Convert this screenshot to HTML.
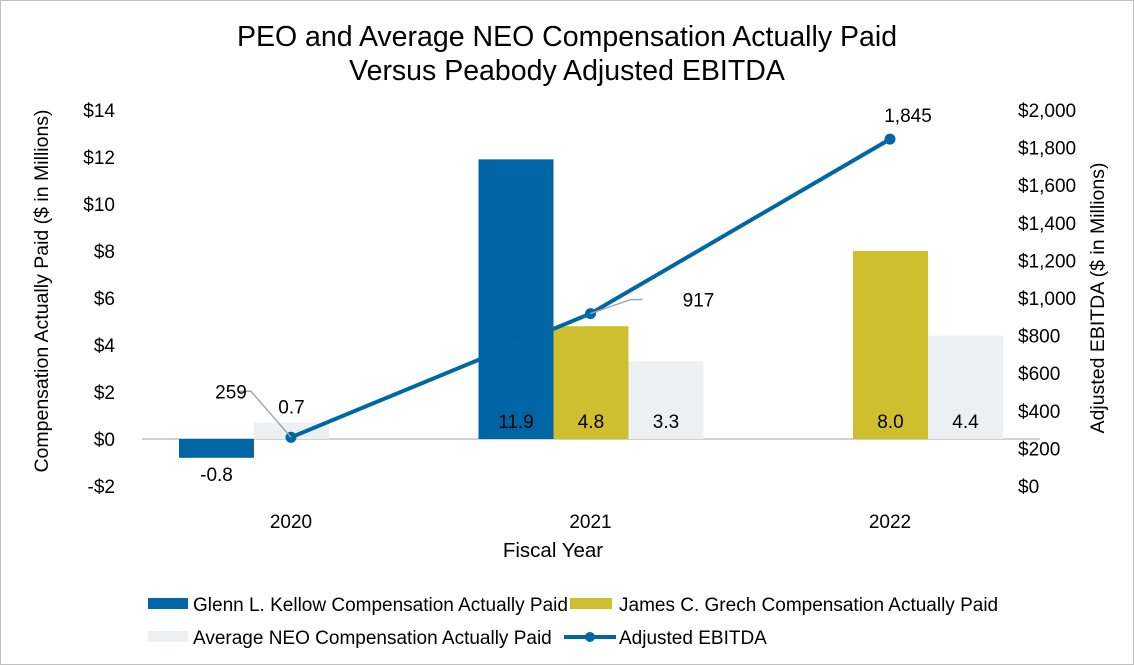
<!DOCTYPE html>
<html><head><meta charset="utf-8"><style>
html,body{margin:0;padding:0;background:#fff;}
svg{display:block;font-family:"Liberation Sans",Arial,sans-serif;}
</style></head><body>
<svg id="chart" width="1134" height="665" viewBox="0 0 1134 665">
<rect x="0.5" y="0.5" width="1133" height="664" fill="#fff" stroke="#bfbfbf"/>
<text x="567" y="46" text-anchor="middle" font-size="28.5" fill="#000">PEO and Average NEO Compensation Actually Paid</text>
<text x="567" y="80" text-anchor="middle" font-size="28.5" fill="#000">Versus Peabody Adjusted EBITDA</text>
<g id="plot"></g>
<text x="553" y="557" text-anchor="middle" font-size="20.5">Fiscal Year</text>
<text transform="translate(48,291) rotate(-90)" text-anchor="middle" font-size="19.5">Compensation Actually Paid ($ in Millions)</text>
<text transform="translate(1104,298) rotate(-90)" text-anchor="middle" font-size="19.5">Adjusted EBITDA ($ in Millions)</text>
<g font-size="19">
<rect x="148" y="598" width="40" height="11" fill="#0065a4"/>
<text x="193" y="611">Glenn L. Kellow Compensation Actually Paid</text>
<rect x="570" y="598" width="42" height="11" fill="#cfbf2f"/>
<text x="619" y="611">James C. Grech Compensation Actually Paid</text>
<rect x="148" y="631" width="40" height="11" fill="#edf0f3"/>
<text x="193" y="644">Average NEO Compensation Actually Paid</text>
<line x1="564" y1="637" x2="616" y2="637" stroke="#0067a5" stroke-width="4"/>
<circle cx="590" cy="637" r="5" fill="#0067a5"/>
<text x="619" y="644">Adjusted EBITDA</text>
</g>
</svg>
<script>
const categories = ["2020","2021","2022"];
const kellow = [-0.8, 11.9, null];
const grech = [null, 4.8, 8.0];
const neo = [0.7, 3.3, 4.4];
const ebitda = [259, 917, 1845];
const leftTicks = [-2,0,2,4,6,8,10,12,14];
const rightTicks = [0,200,400,600,800,1000,1200,1400,1600,1800,2000];
const NS="http://www.w3.org/2000/svg";
const plot=document.getElementById('plot');
function yL(v){return 439 - v*23.5;}
function yR(v){return 486 - v*0.188;}
function xC(i){return 291 + i*299.5;}
const BW=75;
const FS=19;
function mk(tag,attrs){const e=document.createElementNS(NS,tag);for(const k in attrs)e.setAttribute(k,attrs[k]);plot.appendChild(e);return e;}
function fmt(v){return v.toLocaleString('en-US');}
leftTicks.forEach(t=>{const e=mk('text',{x:115,y:yL(t)+7,'text-anchor':'end','font-size':FS});e.textContent=(t<0?'-$':'$')+Math.abs(t);

});
rightTicks.forEach(t=>{const e=mk('text',{x:1018,y:yR(t)+7,'font-size':FS});e.textContent='$'+fmt(t);

});
const zl=mk('line',{x1:142,x2:1040,y1:yL(0),y2:yL(0),stroke:'#d0d0d0','stroke-width':2});


categories.forEach((c,i)=>{const e=mk('text',{x:xC(i),y:528,'text-anchor':'middle','font-size':FS});e.textContent=c;

});
function bar(v,i,slot,color,name){
  if(v===null)return;
  const x=xC(i)-112+slot*BW;
  const y0=yL(0),y1=yL(v);
  const r=mk('rect',{x:x,y:Math.min(y0,y1),width:BW,height:Math.abs(y1-y0),fill:color});
  
  
  let ly; if(v<0) ly=y0+Math.abs(y1-y0)+23; else if(v<1.5) ly=y1-9; else ly=y0-11;
  const t=mk('text',{x:x+BW/2,y:ly,'text-anchor':'middle','font-size':FS});t.textContent=v.toFixed(1);
  
  
}
categories.forEach((c,i)=>{
  const present=[kellow[i],grech[i],neo[i]];
  let s=0; const slots=[];
  if(i===2){slots.push(0,1,2);}else{present.forEach(v=>{slots.push(s); if(v!==null)s++;});}
  bar(kellow[i],i,slots[0],'#0065a4','bar-kellow-'+c);
  bar(grech[i],i,slots[1],'#cfbf2f','bar-grech-'+c);
  bar(neo[i],i,slots[2],'#edf0f3','bar-neo-'+c);
});
const pts=ebitda.map((v,i)=>[xC(i),yR(v)]);
const pl=mk('polyline',{points:pts.map(p=>p.join(',')).join(' '),fill:'none',stroke:'#0067a5','stroke-width':4});


const lblOff=[[-60,-46,-40,-46],[90,-14,40,-14],[0,-24,0,0]];
pts.forEach((p,i)=>{
  const c=mk('circle',{cx:p[0],cy:p[1],r:5.5,fill:'#0067a5'});
  
  
  const o=lblOff[i];
  if(i<2){const l=mk('polyline',{points:`${p[0]},${p[1]} ${p[0]+o[2]},${p[1]+o[3]} ${p[0]+o[2]+(i===0?-12:12)},${p[1]+o[3]}`,fill:'none',stroke:'#a6a6a6','stroke-width':1.5});
    
    }
  const t=mk('text',{x:p[0]+o[0]+(i===0?0:18),y:p[1]+o[1]+7,'text-anchor':'middle','font-size':FS});
  t.textContent=fmt(ebitda[i]);
  
  
});
</script>
</body></html>
